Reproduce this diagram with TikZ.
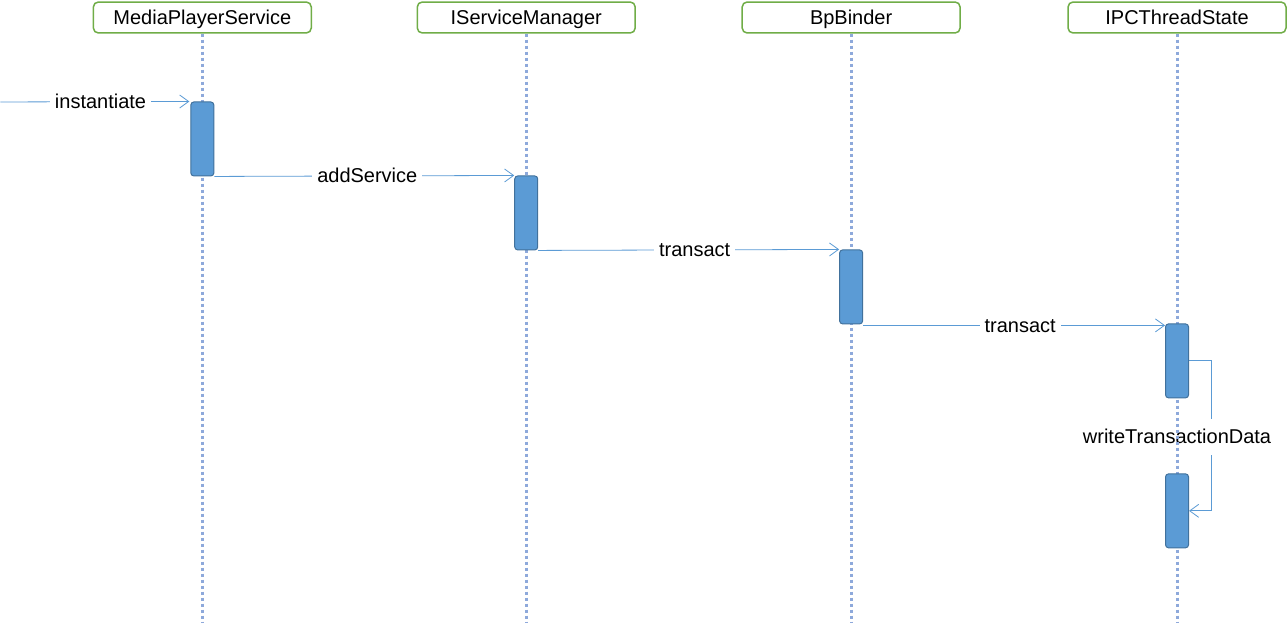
\documentclass[tikz,border=0pt]{standalone}
\usepackage{fontspec}
\setmainfont{Liberation Sans}
\usetikzlibrary{arrows.meta}
\pgfdeclarelayer{canvas}
\pgfdeclarelayer{bg}
\pgfdeclarelayer{mid}
\pgfsetlayers{canvas,bg,mid,main}
\definecolor{hdrgreen}{HTML}{70AD47}
\definecolor{lifeblue}{HTML}{8EA9DB}
\definecolor{actfill}{HTML}{5B9BD5}
\definecolor{actdraw}{HTML}{41719C}
\definecolor{msgblue}{HTML}{5B9BD5}
\tikzset{
  header/.style={draw=hdrgreen, line width=1.5pt, rounded corners=5pt, fill=white,
    minimum width=218pt, minimum height=31pt, inner sep=0pt, text height=16pt, text depth=2pt,
    font=\fontsize{20}{23}\selectfont},
  lifeline/.style={draw=lifeblue, line width=3pt, dash pattern=on 3pt off 3pt},
  activation/.style={draw=actdraw, line width=1pt, fill=actfill, rounded corners=3pt,
    minimum width=23pt, minimum height=74pt, inner sep=0pt},
  msg/.style={draw=msgblue, line width=0.8pt, -{Straight Barb[length=9pt,width=13pt]}},
  msglabel/.style={fill=white, inner xsep=5pt, inner ysep=6pt, text height=16pt, text depth=2pt,
    font=\fontsize{20}{23}\selectfont, text=black}
}
\begin{document}
\begin{tikzpicture}[x=1pt,y=-1pt]
\begin{pgfonlayer}{canvas}
\useasboundingbox[fill=white] (0,0) rectangle (1288,623);
\end{pgfonlayer}
% headers
\node[header] (h1) at (202,17.5) {MediaPlayerService};
\node[header] (h2) at (526,17.5) {IServiceManager};
\node[header] (h3) at (851,17.5) {BpBinder};
\node[header] (h4) at (1177,17.5) {IPCThreadState};
% bottoms
\coordinate (e1) at (202,623);
\coordinate (e2) at (526,623);
\coordinate (e3) at (851,623);
\coordinate (e4) at (1177,623);
% activations
\node[activation] (a1) at (202,139) {};
\node[activation] (a2) at (526,213) {};
\node[activation] (a3) at (851,287) {};
\node[activation] (a4) at (1177,361) {};
\node[activation] (a5) at (1177,511) {};
\coordinate (start) at (0,102);
\begin{pgfonlayer}{mid}
\draw[lifeline] (h1.south) -- (e1);
\draw[lifeline] (h2.south) -- (e2);
\draw[lifeline] (h3.south) -- (e3);
\draw[lifeline] (h4.south) -- (e4);
\end{pgfonlayer}
\begin{pgfonlayer}{bg}
\draw[msg] (start) -- node[msglabel, pos=0.53] (l1) {instantiate} ([xshift=-1pt]a1.north west);
\draw[msg] (a1.south east) -- node[msglabel, pos=0.51] (l2) {addService} (a2.north west);
\draw[msg] (a2.south east) -- node[msglabel, pos=0.52] (l3) {transact} (a3.north west);
\draw[msg] ([yshift=-1pt]a3.south east) -- node[msglabel, pos=0.52] (l4) {transact} ([yshift=-2pt]a4.north west);
\draw[msg] (a4.east) -- ++(22,0) coordinate (s1) -- (s1 |- a5.east) -- (a5.east);
\node[msglabel, inner ysep=9pt] (l5) at (1177,437) {writeTransactionData};
\end{pgfonlayer}
\end{tikzpicture}
\end{document}
